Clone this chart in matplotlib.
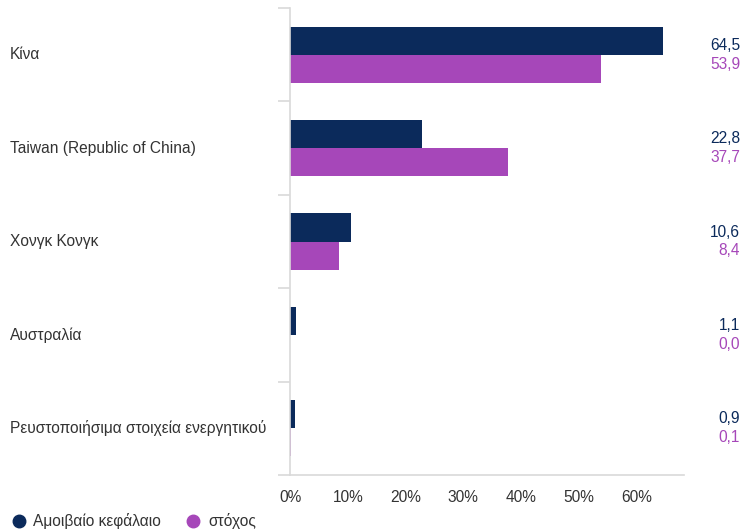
import numpy as np
import matplotlib
matplotlib.use("Agg")
import matplotlib.pyplot as plt
import matplotlib.transforms as mtransforms
from matplotlib.lines import Line2D

plt.rcParams["font.family"] = ["Liberation Sans", "DejaVu Sans"]

# Data
categories = ["Κίνα", "Taiwan (Republic of China)", "Χονγκ Κονγκ", "Αυστραλία",
              "Ρευστοποιήσιμα στοιχεία ενεργητικού"]
fund = [64.5, 22.8, 10.6, 1.1, 0.9]
target = [53.9, 37.7, 8.4, 0.0, 0.1]
series_names = ["Αμοιβαίο κεφάλαιο", "στόχος"]
xticks = [0, 10, 20, 30, 40, 50, 60]

navy = "#0b2a5b"
purple = "#a647b9"
grid_col = "#d9d9d9"
text_col = "#333333"
fs = 11.2

W, H = 741, 529
fig = plt.figure(figsize=(W / 100, H / 100), dpi=100)
ax = fig.add_axes([290 / W, 1 - 475 / H, (684 - 290) / W, (475 - 8) / H])

y = np.arange(len(categories))
bh = 0.3
ax.barh(y - bh / 2, fund, height=bh, color=navy)
ax.barh(y + bh / 2, target, height=bh, color=purple)

ax.set_xlim(0, 68.2)
ax.set_ylim(len(categories) - 0.5, -0.5)

for s in ["top", "right"]:
    ax.spines[s].set_visible(False)
for s in ["left", "bottom"]:
    ax.spines[s].set_color(grid_col)
    ax.spines[s].set_linewidth(1.2)

ax.set_xticks(xticks)
ax.set_xticklabels([f"{t}%" for t in xticks], fontsize=fs, color=text_col)
ax.tick_params(axis="x", length=0, pad=11)

ax.set_yticks([])
ax.set_yticks(np.arange(-0.5, len(categories)), minor=True)
ax.tick_params(axis="y", which="minor", length=9, width=1.2, color=grid_col,
               labelleft=False)

# category labels
trans = mtransforms.blended_transform_factory(fig.transFigure, ax.transData)
for i, c in enumerate(categories):
    ax.text(10 / W, i, c, transform=trans, ha="left", va="center",
            fontsize=fs, color=text_col)

# value labels at right
for i in range(len(categories)):
    ax.text(740 / W, i - 0.1, f"{fund[i]:.1f}".replace(".", ","), transform=trans,
            ha="right", va="center", fontsize=fs, color=navy)
    ax.text(740 / W, i + 0.1, f"{target[i]:.1f}".replace(".", ","), transform=trans,
            ha="right", va="center", fontsize=fs, color=purple)

# legend, placed by hand
leg_y = 1 - 521 / H
for xm, xt, col, name in [(19, 33, navy, series_names[0]),
                          (193, 208, purple, series_names[1])]:
    fig.add_artist(Line2D([xm / W], [leg_y], marker="o", ls="", ms=9, color=col,
                          transform=fig.transFigure))
    fig.text(xt / W, leg_y, name, ha="left", va="center", fontsize=fs, color=text_col)

fig.savefig("out.png", dpi=100)
